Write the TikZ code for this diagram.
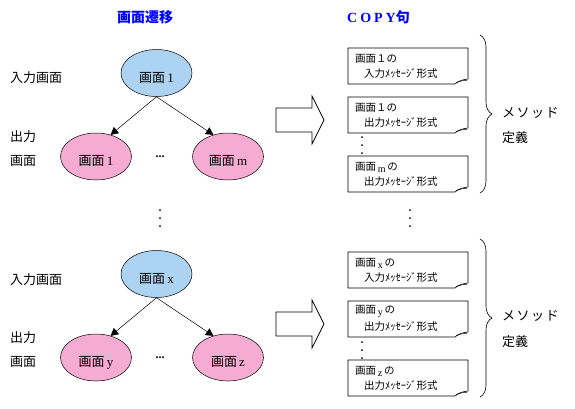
\documentclass[tikz,border=0pt]{standalone}
\usepackage{fontspec}
\setmainfont{Liberation Serif}
\newfontfamily\jp{Noto Sans CJK JP}
\usetikzlibrary{shapes.geometric,arrows.meta,decorations.pathreplacing}
\definecolor{inblue}{RGB}{172,212,242}
\definecolor{outpink}{RGB}{246,172,210}
\definecolor{ttlblue}{RGB}{0,0,255}
\newcommand\mydoc[1]{%
  \draw[docbox] (348,#1) -- (468,#1) -- (468,#1+31)
     .. controls (463,#1+31.5) and (458,#1+33) .. (455,#1+36) -- (348,#1+36) -- cycle;
  \draw[line width=0.5pt] (456,#1+35) .. controls (459,#1+33) and (463,#1+32.5) .. (467,#1+32.5);
}
\newcommand\myvdots[2]{%
  \fill (#1,#2) circle (1pt);
  \fill (#1,#2+8) circle (1pt);
  \fill (#1,#2+16) circle (1pt);
}
\newcommand\elt[1]{\raisebox{-9pt}[0pt][0pt]{#1}}
\begin{document}
\begin{tikzpicture}[x=1pt,y=-1pt,
  scr/.style={ellipse,draw,line width=0.5pt,minimum width=71pt,minimum height=47pt,inner sep=0pt,font=\fontsize{13}{15}\selectfont},
  inscr/.style={scr,fill=inblue},
  outscr/.style={scr,fill=outpink},
  lbl/.style={font=\jp\fontsize{13}{15}\selectfont,anchor=west,inner sep=0pt},
  ttl/.style={font=\jp\bfseries\fontsize{14}{16}\selectfont,text=ttlblue,inner sep=0pt},
  doctxt/.style={font=\jp\fontsize{10.5}{12}\selectfont,anchor=west,inner sep=0pt},
  docbox/.style={draw,line width=0.6pt,fill=white},
  flow/.style={-{Triangle[length=7.5pt,width=8pt]},line width=0.5pt},
  bigarrow/.style={draw,line width=0.7pt,fill=white},
  brc/.style={draw,line width=0.6pt,decorate,decoration={brace,amplitude=12pt}},
  dotsnode/.style={font=\bfseries\fontsize{12}{12}\selectfont,inner sep=0pt}
]
\useasboundingbox[fill=white] (0,0) rectangle (575,408);

% titles
\node[ttl] (t1) at (145,17) {画面遷移};
\node[ttl,anchor=west] (t2) at (347,17) {{\rmfamily\bfseries C\hspace{3pt}O\hspace{3pt}P\hspace{3pt}Y}句};

% ---------- upper half ----------
\node[lbl] (in1) at (10,78) {入力画面};
\node[lbl] (out1a) at (10,137) {出力};
\node[lbl] (out1b) at (10,161) {画面};

\node[inscr] (a1) at (156.5,73) {\elt{{\jp 画面}\,1}};
\node[outscr] (b1) at (96,156.5) {\elt{{\jp 画面}\,1}};
\node[outscr] (c1) at (228,156.5) {\elt{{\jp 画面}\,m}};
\node[dotsnode] (e1) at (160,157) {...};
\draw[flow] (a1.south) -- (b1.56);
\draw[flow] (a1.south) -- (c1.124);

\draw[bigarrow] (276,108) -- (312,108) -- (312,96) -- (324,120) -- (312,144) -- (312,132) -- (276,132) -- cycle;

\mydoc{48}
\node[doctxt] (d1a) at (355,59) {画面１の};
\node[doctxt] (d1b) at (364,73) {入力ﾒｯｾｰｼﾞ形式};
\mydoc{97}
\node[doctxt] (d2a) at (355,108) {画面１の};
\node[doctxt] (d2b) at (364,122) {出力ﾒｯｾｰｼﾞ形式};
\myvdots{362}{137}
\mydoc{156}
\node[doctxt] (d3a) at (355,167) {画面\,\raisebox{-2pt}{\rmfamily\fontsize{10}{10}\selectfont m}\,の};
\node[doctxt] (d3b) at (364,181) {出力ﾒｯｾｰｼﾞ形式};

\draw[brc] (480,35) -- (480,193);
\node[lbl] (m1) at (502,113) {メ\hspace{1.5pt}ソ\hspace{1.5pt}ッ\hspace{1.5pt}ド};
\node[lbl] (g1) at (502,138) {定義};

% middle dots
\myvdots{160}{210}
\myvdots{410}{210}

% ---------- lower half ----------
\node[lbl] (in2) at (10,280) {入力画面};
\node[lbl] (out2a) at (10,338) {出力};
\node[lbl] (out2b) at (10,362) {画面};

\node[inscr] (a2) at (156.5,274) {\elt{{\jp 画面}\,x}};
\node[outscr] (b2) at (96,357.5) {\elt{{\jp 画面}\,y}};
\node[outscr] (c2) at (228,357.5) {\elt{{\jp 画面}\,z}};
\node[dotsnode] (e2) at (160,358) {...};
\draw[flow] (a2.south) -- (b2.56);
\draw[flow] (a2.south) -- (c2.124);

\draw[bigarrow] (276,312) -- (312,312) -- (312,300) -- (324,324) -- (312,348) -- (312,336) -- (276,336) -- cycle;

\mydoc{252}
\node[doctxt] (d4a) at (355,263) {画面\,\raisebox{-2pt}{\rmfamily\fontsize{10}{10}\selectfont x}\,の};
\node[doctxt] (d4b) at (364,277) {入力ﾒｯｾｰｼﾞ形式};
\mydoc{301}
\node[doctxt] (d5a) at (355,312) {画面\,\raisebox{-2pt}{\rmfamily\fontsize{10}{10}\selectfont y}\,の};
\node[doctxt] (d5b) at (364,326) {出力ﾒｯｾｰｼﾞ形式};
\myvdots{362}{342}
\mydoc{360}
\node[doctxt] (d6a) at (355,371) {画面\,\raisebox{-2pt}{\rmfamily\fontsize{10}{10}\selectfont z}\,の};
\node[doctxt] (d6b) at (364,385) {出力ﾒｯｾｰｼﾞ形式};

\draw[brc] (480,239) -- (480,397);
\node[lbl] (m2) at (502,316) {メ\hspace{1.5pt}ソ\hspace{1.5pt}ッ\hspace{1.5pt}ド};
\node[lbl] (g2) at (502,342) {定義};
\end{tikzpicture}
\end{document}
